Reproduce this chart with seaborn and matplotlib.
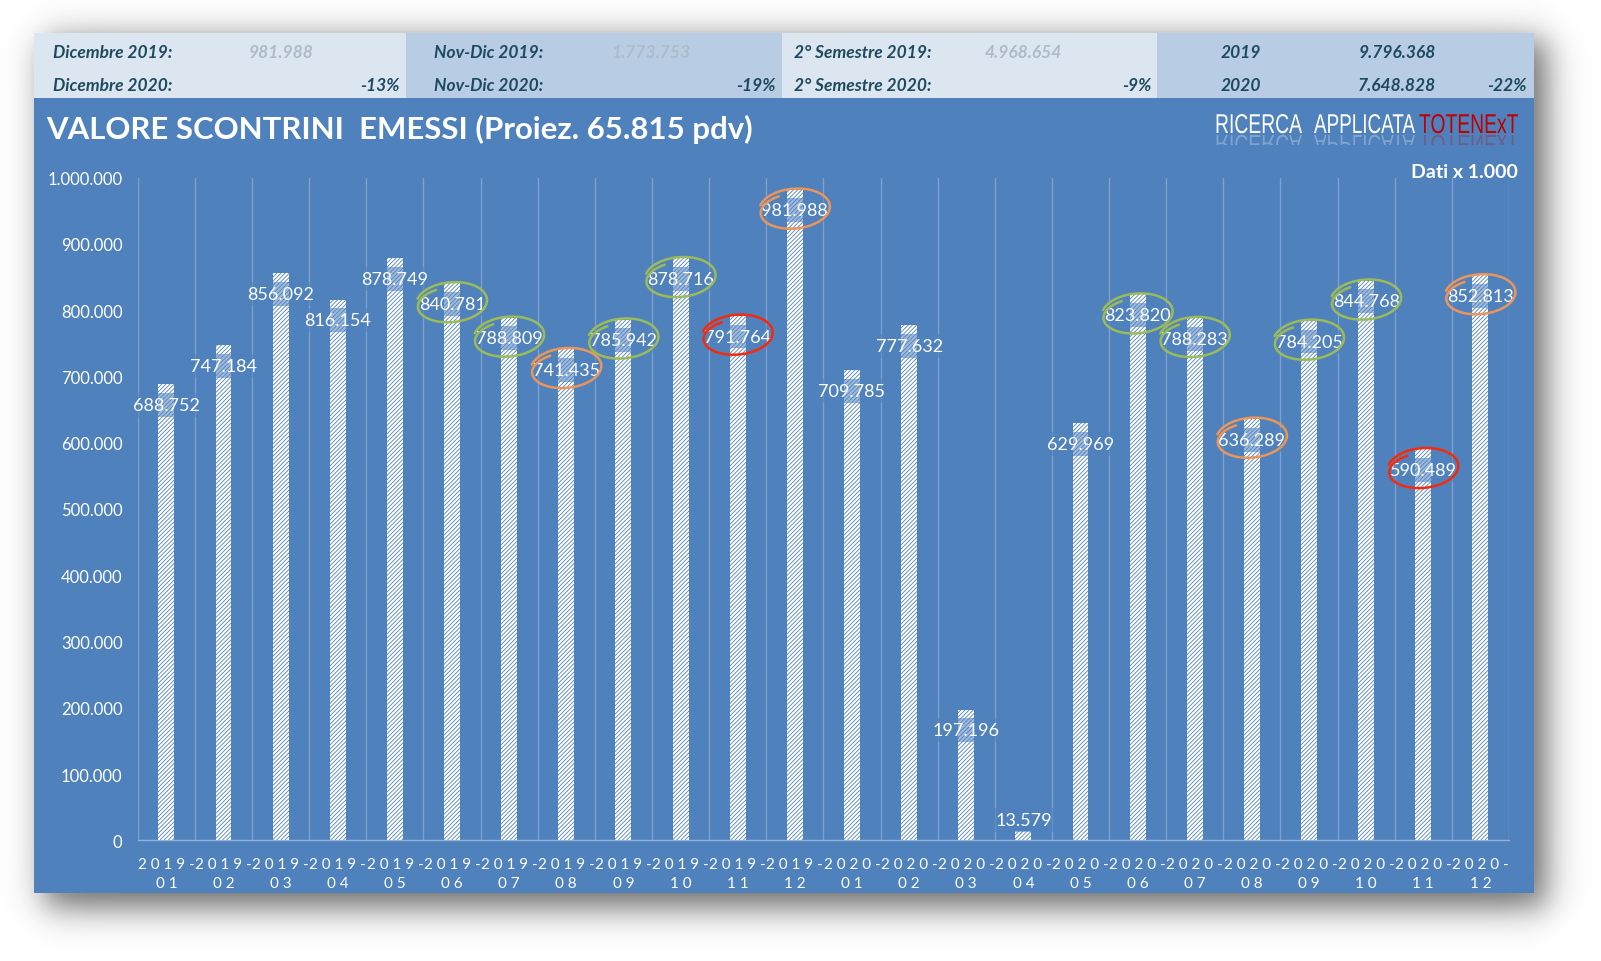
import numpy as np
import pandas as pd
import matplotlib
matplotlib.use("Agg")
import matplotlib.pyplot as plt
import seaborn as sns
from matplotlib.patches import Rectangle, PathPatch
from matplotlib.textpath import TextPath
from matplotlib.font_manager import FontProperties
import matplotlib.transforms as mtransforms

# ---------------- data ----------------
months = ["2019-01", "2019-02", "2019-03", "2019-04", "2019-05", "2019-06",
          "2019-07", "2019-08", "2019-09", "2019-10", "2019-11", "2019-12",
          "2020-01", "2020-02", "2020-03", "2020-04", "2020-05", "2020-06",
          "2020-07", "2020-08", "2020-09", "2020-10", "2020-11", "2020-12"]
values = [688752, 747184, 856092, 816154, 878749, 840781,
          788809, 741435, 785942, 878716, 791764, 981988,
          709785, 777632, 197196, 13579, 629969, 823820,
          788283, 636289, 784205, 844768, 590489, 852813]
circle_marks = [None, None, None, None, None, "green",
                "green", "orange", "green", "green", "red", "orange",
                None, None, None, None, None, "green",
                "green", "orange", "green", "green", "red", "orange"]
y_ticks = [0, 100000, 200000, 300000, 400000, 500000, 600000, 700000, 800000, 900000, 1000000]

header_labels_a = ["Dicembre 2019:", "Nov-Dic 2019:", "2° Semestre 2019:", "2019"]
header_values_a = ["981.988", "1.773.753", "4.968.654", "9.796.368"]
header_labels_b = ["Dicembre 2020:", "Nov-Dic 2020:", "2° Semestre 2020:", "2020"]
header_values_b = ["", "", "", "7.648.828"]
header_changes = ["-13%", "-19%", "-9%", "-22%"]

title = "VALORE SCONTRINI  EMESSI (Proiez. 65.815 pdv)"
brand_words = ["RICERCA", "APPLICATA", "TOTENExT"]
unit_note = "Dati x 1.000"

# ---------------- style ----------------
BLUE = "#4f81bd"
GRID = "#7fa0cf"
HDR_LIGHT = "#dce6f1"
HDR_DARK = "#b8cce4"
HDR_TEXT = "#1e4a5e"
HDR_GREY = "#aebbc8"
RING = {"green": "#9bbb59", "orange": "#ea955a", "red": "#f52a0c"}

sns.set_theme(style="white")
plt.rcParams["font.family"] = ["Lato", "DejaVu Sans"]
plt.rcParams["hatch.color"] = BLUE
plt.rcParams["hatch.linewidth"] = 0.6

W, H = 1601, 962
fig = plt.figure(figsize=(W / 100, H / 100), dpi=100)
fig.patch.set_facecolor("white")

# background axes in pixel coordinates
bg = fig.add_axes([0, 0, 1, 1], zorder=0)
bg.set_xlim(0, W)
bg.set_ylim(H, 0)
bg.axis("off")

# soft drop shadow
xx = np.arange(W)[None, :]
yy = np.arange(H)[:, None]
s = 20.0
sx0, sx1, sy0, sy1 = 44, 1546, 40, 908
fx = 0.5 * (np.tanh((xx - sx0) / s) - np.tanh((xx - sx1) / s))
fy = 0.5 * (np.tanh((yy - sy0) / s) - np.tanh((yy - sy1) / s))
alpha = 0.58 * fx * fy
img = 1 - alpha
bg.imshow(img, cmap="gray", vmin=0, vmax=1, extent=[0, W, H, 0], aspect="auto", zorder=0)

# header cells
cell_x = [34, 406, 782, 1157, 1534]
for k in range(4):
    bg.add_patch(Rectangle((cell_x[k], 34), cell_x[k + 1] - cell_x[k], 65,
                           facecolor=HDR_LIGHT if k % 2 == 0 else HDR_DARK,
                           edgecolor="none", zorder=1))
# main panel
bg.add_patch(Rectangle((34, 99), 1500, 795, facecolor=BLUE, edgecolor="none", zorder=1))

hfont = dict(fontsize=12.5, fontweight="bold", fontstyle="italic", va="center", zorder=3)
row_a, row_b = 53, 86
label_x = [53, 434, 794, 1221]
value_x = [249, 611, 985, None]
change_xr = [400, 776, 1152, 1527]
for k in range(4):
    bg.text(label_x[k], row_a, header_labels_a[k], color=HDR_TEXT, ha="left", **hfont)
    bg.text(label_x[k], row_b, header_labels_b[k], color=HDR_TEXT, ha="left", **hfont)
    if k < 3:
        bg.text(value_x[k], row_a, header_values_a[k], color=HDR_GREY, ha="left", **hfont)
    else:
        bg.text(1436, row_a, header_values_a[k], color=HDR_TEXT, ha="right", **hfont)
        bg.text(1436, row_b, header_values_b[k], color=HDR_TEXT, ha="right", **hfont)
    bg.text(change_xr[k], row_b, header_changes[k], color=HDR_TEXT, ha="right", **hfont)

bg.text(46, 129, title, color="white", fontsize=22.4, fontweight="bold",
        ha="left", va="center", zorder=3)
bg.text(1518, 173, unit_note, color="white", fontsize=14, fontweight="bold",
        ha="right", va="center", zorder=3)

# brand with reflection (TextPath in pixel coordinates)
fp = FontProperties(family=["Liberation Sans Narrow", "Liberation Sans"])
word_boxes = [(1215, 1302), (1314, 1415), (1419, 1518)]
word_cols = ["white", "white", "#c00000"]
baseline = 134
cap_px = 19.0
for word, (x0, x1), col in zip(brand_words, word_boxes, word_cols):
    tp = TextPath((0, 0), word, size=26, prop=fp)
    v = tp.vertices
    wmin, wmax = v[:, 0].min(), v[:, 0].max()
    hmax = v[:, 1].max()
    sxx = (x1 - x0) / (wmax - wmin)
    syy = cap_px / hmax
    tr_main = mtransforms.Affine2D().translate(-wmin, 0).scale(sxx, -syy).translate(x0, baseline)
    bg.add_patch(PathPatch(tr_main.transform_path(tp), facecolor=col, edgecolor="none", zorder=3))
    tr_ref = mtransforms.Affine2D().translate(-wmin, 0).scale(sxx, syy * 0.95).translate(x0, baseline + 2)
    rp = PathPatch(tr_ref.transform_path(tp), facecolor=col, edgecolor="none", alpha=0.28, zorder=3)
    bg.add_patch(rp)
    clip = Rectangle((x0 - 2, baseline), x1 - x0 + 4, 12, transform=bg.transData)
    rp.set_clip_path(clip)

# ---------------- main chart ----------------
ax_left, ax_right = 137.8, 1509.0
ax_top, ax_bot = 178.7, 841.3
ax = fig.add_axes([ax_left / W, 1 - ax_bot / H, (ax_right - ax_left) / W, (ax_bot - ax_top) / H], zorder=2)
ax.patch.set_alpha(0)

df = pd.DataFrame({"month": months, "value": values})
sns.barplot(data=df, x="month", y="value", color="white", saturation=1, width=0.28,
            errorbar=None, ax=ax, zorder=3)
for p in ax.patches:
    p.set_facecolor("white")
    p.set_hatch("////////")
    p.set_edgecolor(BLUE)
    p.set_linewidth(0)

ax.set_xlim(-0.5, len(months) - 0.5)
ax.set_ylim(0, 1000000)
ax.set_xlabel("")
ax.set_ylabel("")


def spaced(t):
    return " ".join(list(t))


ax.set_xticks(range(len(months)))
ax.set_xticklabels([spaced(m[:4] + "-") + "\n" + spaced(m[5:]) for m in months],
                   color="white", fontsize=11, linespacing=1.45)
ax.set_yticks(y_ticks)
ax.set_yticklabels([f"{t:,}".replace(",", ".") for t in y_ticks], color="white", fontsize=12)
ax.tick_params(axis="x", length=0, pad=12)
ax.tick_params(axis="y", length=0, pad=11)
ax.set_xticks(np.arange(-0.5, len(months), 1), minor=True)
ax.tick_params(which="minor", length=0)
ax.grid(False)
ax.grid(which="minor", axis="x", color=GRID, linewidth=1, zorder=1)
for sp in ["top", "right", "left"]:
    ax.spines[sp].set_visible(False)
ax.spines["bottom"].set_color("#93b1da")
ax.spines["bottom"].set_linewidth(1)

# data labels
for i, v in enumerate(values):
    off = 8 if v < 50000 else -15
    ax.annotate(f"{v:,}".replace(",", "."), (i, v), xytext=(0, off), textcoords="offset points",
                ha="center", va="center", color="white", fontsize=13, zorder=5,
                bbox=dict(boxstyle="square,pad=0.22", facecolor=BLUE, edgecolor="none", alpha=0.55))

# hand-drawn rings around highlighted labels
fig.canvas.draw()
for i, (v, c) in enumerate(zip(values, circle_marks)):
    if c is None:
        continue
    dx, dy = ax.transData.transform((i, v))
    cx, cy = dx, H - dy + 21
    t0 = np.deg2rad(115)
    t = np.linspace(t0, t0 + 2 * np.pi + 0.8, 200)
    g = (t - t0) / (2 * np.pi)
    a = 34 * (1 + 0.05 * g)
    b = 17.5 * (1 + 0.16 * g)
    rot = np.deg2rad(-6)
    ex = a * np.cos(t)
    ey = -b * np.sin(t)
    px = cx + ex * np.cos(rot) - ey * np.sin(rot)
    py = cy + ex * np.sin(rot) + ey * np.cos(rot) - 2 * g
    ax.plot(px, py, transform=bg.transData, color=RING[c], linewidth=1.8,
            solid_capstyle="round", clip_on=False, zorder=6)

fig.savefig("out.png", dpi=100, facecolor="white")
